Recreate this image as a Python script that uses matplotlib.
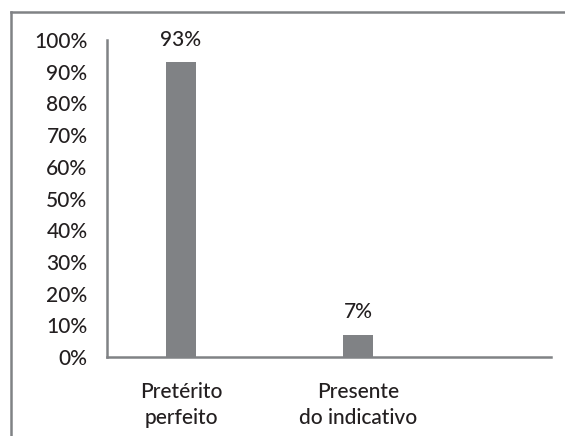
import matplotlib
matplotlib.use('Agg')
import matplotlib.pyplot as plt
from matplotlib.lines import Line2D
from matplotlib import rcParams

rcParams['font.family'] = ['Lato', 'DejaVu Sans']
rcParams['font.size'] = 15
rcParams['font.weight'] = 'medium'

categorias = ['Pretérito\nperfeito', 'Presente\ndo indicativo']
valores = [93, 7]
yticks = [0, 10, 20, 30, 40, 50, 60, 70, 80, 90, 100]

cinza = '#808285'
texto = '#231f20'

fig = plt.figure(figsize=(5.65, 4.36), dpi=100)
ax = fig.add_axes([0.1894, 0.1812, 0.975 - 0.1894, 0.908 - 0.1812])

x = list(range(len(valores)))
ax.bar(x, valores, width=0.17, color=cinza, zorder=2)
for xi, v in zip(x, valores):
    ax.annotate(str(v) + '%', (xi, v), xytext=(0, 9), textcoords='offset points',
                ha='center', va='bottom', color=texto, fontsize=15)

ax.set_xlim(-0.418, 2.09)
ax.set_ylim(0, 100)
ax.set_yticks(yticks)
ax.set_yticklabels([str(t) + '%' for t in yticks])
ax.set_xticks(x)
ax.set_xticklabels(categorias, linespacing=1.35)
ax.tick_params(axis='both', length=0, colors=texto, labelsize=15)
ax.tick_params(axis='y', pad=14)
ax.tick_params(axis='x', pad=18)

for s in ['top', 'right']:
    ax.spines[s].set_visible(False)
for s in ['left', 'bottom']:
    ax.spines[s].set_color(cinza)
    ax.spines[s].set_linewidth(1.8)

# moldura da figura (cortada à direita e embaixo)
fig.add_artist(Line2D([11 / 565, 1], [1 - 12 / 436, 1 - 12 / 436], color=cinza, lw=1.8, transform=fig.transFigure))
fig.add_artist(Line2D([11 / 565, 11 / 565], [0, 1 - 12 / 436], color=cinza, lw=1.8, transform=fig.transFigure))

fig.savefig('out.png', dpi=100)
